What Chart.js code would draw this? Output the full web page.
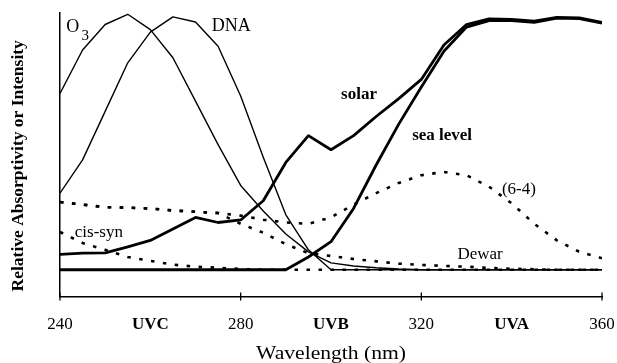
<!DOCTYPE html>
<html><head><meta charset="utf-8">
<script src="https://cdn.jsdelivr.net/npm/chart.js@4/dist/chart.umd.min.js"></script>
<style>html,body{margin:0;padding:0;background:#fff}canvas{display:block}</style>
</head><body>
<canvas id="c" width="617" height="363"></canvas>
<script>
// ---- data ----
const wavelengths = [240,245,250,255,260,265,270,275,280,285,290,295,300,305,310,315,320,325,330,335,340,345,350,355,360];
const ozone    = [0.69,0.86,0.96,1.0,0.94,0.83,0.66,0.49,0.33,0.23,0.14,0.07,0.027,0.015,0.008,0.003,0,0,0,0,0,0,0,0,0];
const dna      = [0.30,0.43,0.62,0.81,0.93,0.99,0.97,0.875,0.68,0.44,0.215,0.078,0,0,0,0,0,0,0,0,0,0,0,0,0];
const solar    = [0.06,0.065,0.066,0.09,0.115,0.16,0.205,0.185,0.195,0.27,0.42,0.525,0.47,0.525,0.60,0.67,0.745,0.88,0.96,0.982,0.98,0.973,0.988,0.986,0.968];
const seaLevel = [0,0,0,0,0,0,0,0,0,0,0,0.05,0.11,0.24,0.41,0.57,0.715,0.855,0.95,0.975,0.975,0.968,0.985,0.983,0.965];
const sixFour  = [0.265,0.255,0.245,0.243,0.24,0.232,0.227,0.222,0.212,0.196,0.185,0.18,0.205,0.255,0.30,0.34,0.37,0.383,0.37,0.325,0.26,0.18,0.115,0.07,0.045];
const dewar    = [0.265,0.255,0.245,0.243,0.24,0.232,0.227,0.222,0.18,0.145,0.10,0.065,0.054,0.042,0.033,0.024,0.019,0.015,0.012,0.007,0.004,0.002,0,0,0];
const cisSyn   = [0.148,0.105,0.078,0.05,0.035,0.02,0.012,0.008,0.003,0,0,0,0,0,0,0,0,0,0,0,0,0,0,0,0];
const tickLabels = ['240','UVC','280','UVB','320','UVA','360'];
const xTitle = 'Wavelength (nm)';
const yTitle = 'Relative Absorptivity or Intensity';

// curve labels, placed in data coordinates (wavelength, value)
const curveLabels = [
  {text:'O',        x:242.8, y:0.951, size:18, bold:false},
  {text:'3',        x:245.6, y:0.915, size:15, bold:false},
  {text:'DNA',      x:277.9, y:0.953, size:18, bold:false},
  {text:'solar',    x:306.2, y:0.684, size:17, bold:true},
  {text:'sea level',x:324.6, y:0.527, size:17, bold:true},
  {text:'(6-4)',    x:341.6, y:0.316, size:17, bold:false},
  {text:'Dewar',    x:333.0, y:0.059, size:17, bold:false},
  {text:'cis-syn',  x:248.6, y:0.145, size:17, bold:false}
];

const SERIF = '"Liberation Serif", "Times New Roman", serif';
const pts = arr => wavelengths.map((w, i) => ({x: w, y: arr[i]}));
const base = {borderColor:'#000', backgroundColor:'#000', pointRadius:0, tension:0, fill:false, borderJoinStyle:'round'};
const thin = Object.assign({}, base, {borderWidth:1.4});
const thick = Object.assign({}, base, {borderWidth:2.8});
const dotted = Object.assign({}, base, {borderWidth:2.6, borderDash:[3.5, 8.5], borderCapStyle:'butt'});

const textPlugin = {
  id: 'texts',
  afterDraw(chart) {
    const {ctx, scales: {x, y}, chartArea: a} = chart;
    ctx.save();
    // tick marks crossing the x axis at the numbered ticks
    ctx.strokeStyle = '#000';
    ctx.lineWidth = 1.3;
    x.ticks.forEach((t, i) => {
      if (i % 2) return;
      const px = x.getPixelForValue(t.value);
      ctx.beginPath();
      ctx.moveTo(px, a.bottom - 4);
      ctx.lineTo(px, a.bottom + 4);
      ctx.stroke();
    });
    ctx.fillStyle = '#000';
    ctx.textAlign = 'center';
    ctx.textBaseline = 'middle';
    curveLabels.forEach(l => {
      ctx.font = (l.bold ? 'bold ' : '') + l.size + 'px ' + SERIF;
      ctx.fillText(l.text, x.getPixelForValue(l.x), y.getPixelForValue(l.y));
    });
    ctx.save();
    ctx.translate((a.left + a.right) / 2, a.bottom + 58);
    ctx.scale(1.2, 1);
    ctx.font = '18px ' + SERIF;
    ctx.fillText(xTitle, 0, 0);
    ctx.restore();
    ctx.translate(a.left - 42, (a.top + a.bottom) / 2 + 11);
    ctx.rotate(-Math.PI / 2);
    ctx.font = 'bold 17.5px ' + SERIF;
    ctx.fillText(yTitle, 0, 0);
    ctx.restore();
  }
};

new Chart(document.getElementById('c'), {
  type: 'line',
  data: {
    datasets: [
      Object.assign({label:'O3',        data: pts(ozone)},    thin),
      Object.assign({label:'DNA',       data: pts(dna)},      thin),
      Object.assign({label:'solar',     data: pts(solar)},    thick),
      Object.assign({label:'sea level', data: pts(seaLevel)}, thick),
      Object.assign({label:'(6-4)',     data: pts(sixFour)},  dotted),
      Object.assign({label:'Dewar',     data: pts(dewar)},    dotted),
      Object.assign({label:'cis-syn',   data: pts(cisSyn)},   dotted)
    ]
  },
  options: {
    responsive: false,
    animation: false,
    layout: {padding: {left: 60, right: 15, top: 13, bottom: 28}},
    plugins: {legend: {display: false}, tooltip: {enabled: false}},
    scales: {
      x: {
        type: 'linear', min: 240, max: 360,
        ticks: {
          stepSize: 20, autoSkip: false, maxRotation: 0, padding: 0, color: '#000',
          font: c => ({family: SERIF, size: 17, weight: (c.index % 2) ? 'bold' : 'normal'}),
          callback: (v, i) => tickLabels[i]
        },
        grid: {
          display: true, drawOnChartArea: false, drawTicks: true, tickLength: 18,
          color: 'rgba(0,0,0,0)', tickColor: 'rgba(0,0,0,0)'
        },
        border: {display: true, color: '#000', width: 1.5}
      },
      y: {
        min: -0.105, max: 1.005,
        ticks: {display: false},
        grid: {display: false, drawTicks: false},
        border: {display: true, color: '#000', width: 1.5}
      }
    }
  },
  plugins: [textPlugin]
});
</script>
</body></html>
